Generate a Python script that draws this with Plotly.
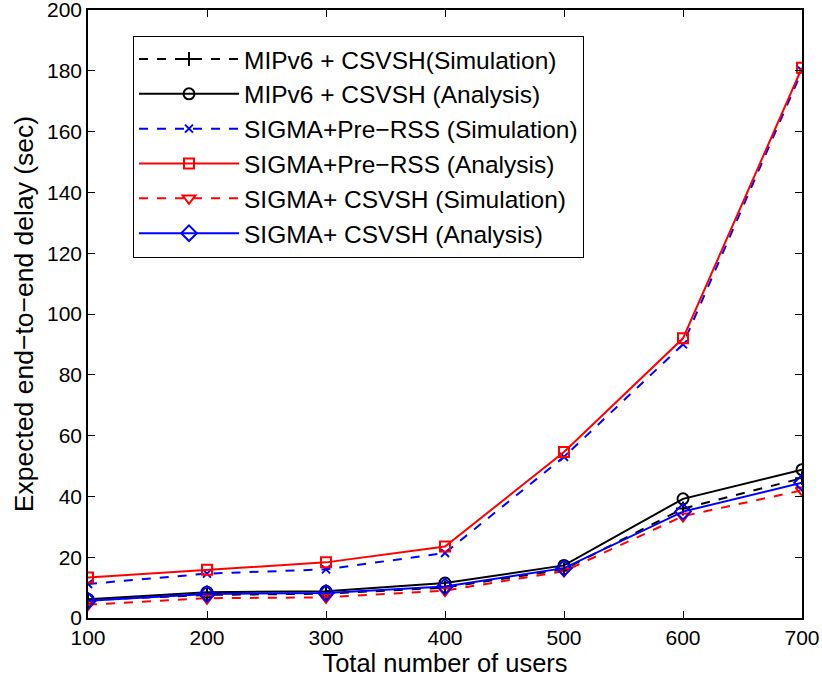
import plotly.graph_objects as go

users = [100, 200, 300, 400, 500, 600, 700]

mipv6_csvsh_sim = [5.9, 7.6, 8.0, 10.0, 16.0, 36.0, 46.0]
mipv6_csvsh_ana = [6.2, 8.5, 8.8, 11.5, 17.3, 39.2, 48.8]
sigma_prerss_sim = [11.2, 14.6, 16.0, 21.4, 53.0, 90.0, 180.0]
sigma_prerss_ana = [13.3, 15.9, 18.3, 23.5, 54.6, 92.0, 181.0]
sigma_csvsh_sim = [4.4, 6.5, 6.8, 9.0, 15.4, 33.5, 42.0]
sigma_csvsh_ana = [5.7, 7.9, 8.2, 10.4, 16.4, 35.0, 44.5]

y_ticks = list(range(0, 201, 20))

series = [
    ("MIPv6 + CSVSH(Simulation)", mipv6_csvsh_sim, "black", "dash", "cross-thin-open", 10),
    ("MIPv6 + CSVSH (Analysis)", mipv6_csvsh_ana, "black", "solid", "circle-open", 11),
    ("SIGMA+Pre\u2212RSS (Simulation)", sigma_prerss_sim, "#0000ff", "dash", "x-thin-open", 8),
    ("SIGMA+Pre\u2212RSS (Analysis)", sigma_prerss_ana, "#ff0000", "solid", "square-open", 10),
    ("SIGMA+ CSVSH (Simulation)", sigma_csvsh_sim, "#ff0000", "dash", "triangle-down-open", 11),
    ("SIGMA+ CSVSH (Analysis)", sigma_csvsh_ana, "#0000ff", "solid", "diamond-open", 12),
]

fig = go.Figure()
for name, vals, color, dash, symbol, size in series:
    fig.add_trace(go.Scatter(
        x=users, y=vals, name=name, mode="lines+markers",
        line=dict(color=color, width=2, dash=dash),
        marker=dict(symbol=symbol, size=size, color=color,
                    line=dict(color=color, width=2)),
    ))

axis_common = dict(
    showgrid=False, zeroline=False, showline=True, linecolor="black",
    linewidth=1.5, mirror="ticks", ticks="inside", ticklen=7,
    tickcolor="black", tickfont=dict(size=21, color="black"),
    automargin=False, ticklabeloverflow="allow",
)

fig.update_layout(
    template="none",
    width=822, height=685,
    margin=dict(l=88, r=20, t=10, b=67),
    plot_bgcolor="white", paper_bgcolor="white",
    font=dict(family="Liberation Sans, Arial, sans-serif", color="black"),
    xaxis=dict(range=[100, 700], tickvals=users,
               title=dict(text="Total number of users", font=dict(size=25.5), standoff=4),
               **axis_common),
    yaxis=dict(range=[0, 200], tickvals=y_ticks,
               title=dict(text="Expected end\u2212to\u2212end delay (sec)", font=dict(size=26.5), standoff=6),
               **axis_common),
    legend=dict(x=0.063, y=0.958, xanchor="left", yanchor="top",
                bgcolor="white", bordercolor="black", borderwidth=1,
                font=dict(size=24.5), tracegroupgap=0, itemwidth=100),
    showlegend=True,
)

fig.write_html("out.html")
